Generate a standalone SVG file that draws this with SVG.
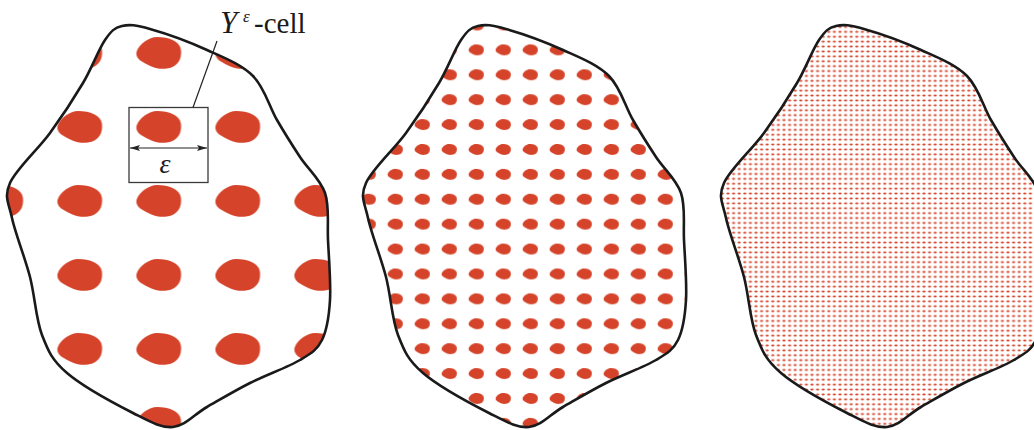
<svg xmlns="http://www.w3.org/2000/svg" xmlns:xlink="http://www.w3.org/1999/xlink" width="1034" height="430" viewBox="0 0 1034 430">
<style>
.edge{fill:none;stroke:#1a1a1a;stroke-width:2.6;stroke-linejoin:round}
.blob{fill:#d5442a}
.cellbox{fill:none;stroke:#3a3a3a;stroke-width:1.3}
.lead{fill:none;stroke:#222;stroke-width:1.2}
.lbl{font-family:"Liberation Serif","DejaVu Serif",serif;fill:#1a1a1a}
</style>
<defs>
<path id="outline" d="M122,26 C129.5,24.17 135.83,25 150,29 C164.17,33 189.83,42.17 207,50 C224.170,57.83 241.33,64.33 253,76 C264.67,87.67 269.17,106.5 277,120 C284.83,133.5 292,144.83 300,157 C308,169.17 320.33,179.17 325,193 C329.67,206.83 327.17,222.17 328,240 C328.83,257.83 331,283.33 330,300 C329,316.67 327,330 322,340 C317,350 312,352.83 300,360 C288,367.17 265.5,375.17 250,383 C234.5,390.83 219.83,399.67 207,407 C194.17,414.33 185.33,426 173,427 C160.67,428 150.67,422 133,413 C115.33,404 82.17,386 67,373 C51.83,360 48.17,351 42,335 C35.83,319 35,296.5 30,277 C25,257.5 15.33,233.67 12,218 C8.67,202.33 3.67,197.17 10,183 C16.33,168.83 37.83,149.67 50,133 C62.17,116.33 73.83,98.5 83,83 C92.17,67.5 98.5,49.5 105,40 C111.5,30.5 114.5,27.83 122,26 Z"/>
<path id="blobshape" d="M-22.5,-1 C-20,-9 -10,-16 -2,-16 C10,-16 21,-12 22,-3 C23,6 19,14 8,15.5 C-2,17 -10,13 -18,8 C-22,5 -23,2 -22.5,-1 Z"/>
<pattern id="pat1" patternUnits="userSpaceOnUse" x="-38.5" y="16" width="79" height="74">
<use xlink:href="#blobshape" class="blob" transform="translate(39.5,37)"/>
</pattern>
<pattern id="pat2" patternUnits="userSpaceOnUse" x="-1.2" y="12.55" width="27" height="24.9">
<use xlink:href="#blobshape" class="blob" transform="translate(13.5,12.45) scale(0.34)"/>
</pattern>
<pattern id="pat3" patternUnits="userSpaceOnUse" x="0" y="0" width="5.6" height="4.9">
<ellipse cx="2.8" cy="2.45" rx="1.65" ry="1.1" class="blob"/>
</pattern>
<marker id="ah" viewBox="0 0 10 6" refX="10" refY="3" markerWidth="10" markerHeight="6" markerUnits="userSpaceOnUse" orient="auto-start-reverse">
<path d="M0,0 L10,3 L0,6 L2,3 Z" fill="#222"/>
</marker>
</defs>
<g id="panel-coarse">
<use xlink:href="#outline" fill="url(#pat1)"/>
<use xlink:href="#outline" class="edge"/>
</g>
<g id="cell-box">
<rect class="cellbox" x="129" y="107.5" width="79" height="75"/>
<text class="lbl" x="165" y="173" font-size="28" font-style="italic" text-anchor="middle">ε</text>
</g>
<g id="label">
<text class="lbl" x="220" y="32.5" font-size="31" font-style="italic">Y</text>
<text class="lbl" x="243" y="21.5" font-size="17" font-style="italic">ε</text>
<text class="lbl" x="254" y="32.5" font-size="29">-cell</text>
</g>
<g id="panel-medium" transform="translate(356,0)">
<use xlink:href="#outline" fill="url(#pat2)"/>
<use xlink:href="#outline" class="edge"/>
</g>
<g id="panel-fine" transform="translate(714,0)">
<use xlink:href="#outline" fill="url(#pat3)"/>
<use xlink:href="#outline" class="edge"/>
</g>
<g id="connectors">
<line class="lead" x1="193" y1="107.5" x2="217" y2="41"/>
<line class="lead" x1="130" y1="148" x2="207" y2="148" marker-start="url(#ah)" marker-end="url(#ah)"/>
</g>
</svg>
